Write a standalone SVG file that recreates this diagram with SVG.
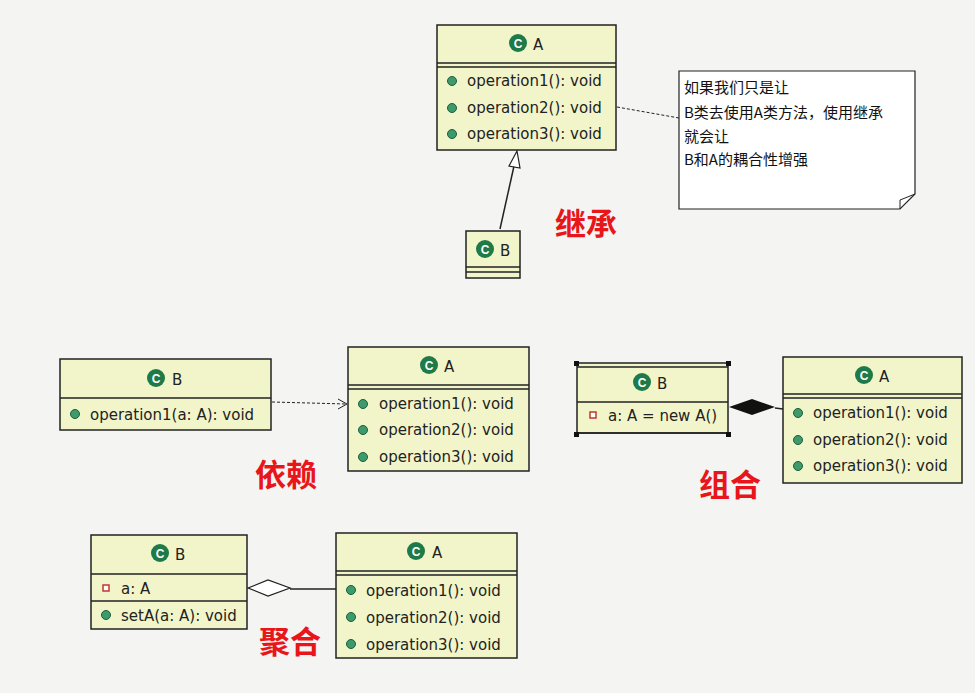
<svg xmlns="http://www.w3.org/2000/svg" width="975" height="693" viewBox="0 0 975 693">
<style>
.box{fill:#f2f5c9;stroke:#222;stroke-width:1.5}
.ln{stroke:#222;stroke-width:1.5;fill:none}
.t{font-family:"DejaVu Sans","Noto Sans CJK SC",sans-serif;font-size:15px;fill:#222}
.n{font-family:"Noto Sans CJK SC","Liberation Sans",sans-serif;font-size:15px;fill:#111}
.red{font-family:"Noto Sans CJK SC",sans-serif;font-size:31px;font-weight:bold;fill:#e8161b}
.dot{fill:#3e9a6a;stroke:#1c5e3c;stroke-width:1}
.ci{fill:#1e7a48}
.cc{font-family:"Liberation Sans",sans-serif;font-size:12px;font-weight:bold;fill:#fff}
</style>
<defs>
<g id="icon"><circle r="9" class="ci"/><text class="cc" text-anchor="middle" y="4.5">C</text></g>
</defs>
<rect width="975" height="693" fill="#f4f4f2"/>
<g id="connectors">
<line class="ln" x1="500" y1="229" x2="514" y2="166"/>
<polygon points="517,151 509,166 520,168" fill="#fff" stroke="#222" stroke-width="1.2"/>
<line x1="617" y1="107" x2="679" y2="118" stroke="#222" stroke-dasharray="3,2"/>
<line x1="272" y1="402" x2="346" y2="404" stroke="#222" stroke-dasharray="3,2"/>
<polyline points="338,399 347,404 338,409" fill="none" stroke="#222"/>
<polygon points="729,407 752,399 775,407 752,415" fill="#111"/>
<line class="ln" x1="775" y1="408" x2="783" y2="409"/>
<polygon points="248,588 268,580 290,588 268,596" fill="#fff" stroke="#222" stroke-width="1.2"/>
<line class="ln" x1="290" y1="589" x2="336" y2="589"/>
</g>
<g id="topA">
<rect class="box" x="437" y="25" width="179" height="125"/>
<line class="ln" x1="437" y1="63" x2="616" y2="63"/><line class="ln" x1="437" y1="67" x2="616" y2="67"/>
<use href="#icon" x="518" y="43"/><text class="t" x="533" y="50">A</text>
<circle class="dot" cx="452" cy="81" r="4.5"/><text class="t" x="467" y="86">operation1(): void</text>
<circle class="dot" cx="452" cy="108" r="4.5"/><text class="t" x="467" y="113">operation2(): void</text>
<circle class="dot" cx="452" cy="134" r="4.5"/><text class="t" x="467" y="139">operation3(): void</text>
</g>
<g id="topB">
<rect class="box" x="466" y="231" width="54" height="47"/>
<line class="ln" x1="466" y1="267" x2="520" y2="267"/><line class="ln" x1="466" y1="272" x2="520" y2="272"/>
<use href="#icon" x="485" y="249"/><text class="t" x="500" y="256">B</text>
</g>
<g id="note">
<path d="M679,71 H915 V194 L900,209 H679 Z" fill="#fff" stroke="#222" stroke-width="1.2"/>
<path d="M915,194 L900,200 L900,209" fill="none" stroke="#222"/>
<text class="n" x="684" y="93">如果我们只是让</text>
<text class="n" x="684" y="118">B类去使用A类方法，使用继承</text>
<text class="n" x="684" y="142">就会让</text>
<text class="n" x="684" y="165">B和A的耦合性增强</text>
</g>
<text class="red" x="555" y="235">继承</text>
<g id="depB">
<rect class="box" x="60" y="359" width="211" height="71"/>
<line class="ln" x1="60" y1="398" x2="271" y2="398"/>
<use href="#icon" x="156" y="378"/><text class="t" x="172" y="385">B</text>
<circle class="dot" cx="75" cy="414" r="4.5"/><text class="t" x="90" y="420">operation1(a: A): void</text>
</g>
<g id="depA">
<rect class="box" x="348" y="347" width="181" height="124"/>
<line class="ln" x1="348" y1="385" x2="529" y2="385"/><line class="ln" x1="348" y1="389" x2="529" y2="389"/>
<use href="#icon" x="429" y="365"/><text class="t" x="444" y="372">A</text>
<circle class="dot" cx="363" cy="404" r="4.5"/><text class="t" x="379" y="409">operation1(): void</text>
<circle class="dot" cx="363" cy="430" r="4.5"/><text class="t" x="379" y="435">operation2(): void</text>
<circle class="dot" cx="363" cy="457" r="4.5"/><text class="t" x="379" y="462">operation3(): void</text>
</g>
<text class="red" x="255" y="486">依赖</text>
<g id="compB">
<rect class="box" x="577" y="363" width="151" height="70"/>
<line class="ln" x1="577" y1="402" x2="728" y2="402"/>
<line class="ln" x1="577" y1="367" x2="728" y2="367"/><line class="ln" x1="577" y1="433" x2="728" y2="433"/>
<rect x="574" y="361" width="5" height="5" fill="#111"/><rect x="726" y="361" width="5" height="5" fill="#111"/>
<rect x="574" y="432" width="5" height="5" fill="#111"/><rect x="726" y="432" width="5" height="5" fill="#111"/>
<use href="#icon" x="642" y="382"/><text class="t" x="657" y="389">B</text>
<rect x="590" y="412" width="6" height="6" fill="#fff" stroke="#c0392b" stroke-width="1.5"/><text class="t" x="608" y="421">a: A = new A()</text>
</g>
<g id="compA">
<rect class="box" x="783" y="357" width="179" height="126"/>
<line class="ln" x1="783" y1="394" x2="962" y2="394"/><line class="ln" x1="783" y1="398" x2="962" y2="398"/>
<use href="#icon" x="864" y="375"/><text class="t" x="879" y="382">A</text>
<circle class="dot" cx="798" cy="413" r="4.5"/><text class="t" x="813" y="418">operation1(): void</text>
<circle class="dot" cx="798" cy="440" r="4.5"/><text class="t" x="813" y="445">operation2(): void</text>
<circle class="dot" cx="798" cy="466" r="4.5"/><text class="t" x="813" y="471">operation3(): void</text>
</g>
<text class="red" x="699" y="496">组合</text>
<g id="aggB">
<rect class="box" x="91" y="535" width="156" height="94"/>
<line class="ln" x1="91" y1="574" x2="247" y2="574"/><line class="ln" x1="91" y1="601" x2="247" y2="601"/>
<use href="#icon" x="160" y="553"/><text class="t" x="175" y="560">B</text>
<rect x="103" y="585" width="6" height="6" fill="#fff" stroke="#c0392b" stroke-width="1.5"/><text class="t" x="121" y="594">a: A</text>
<circle class="dot" cx="106" cy="615" r="4.5"/><text class="t" x="121" y="621">setA(a: A): void</text>
</g>
<g id="aggA">
<rect class="box" x="336" y="533" width="181" height="125"/>
<line class="ln" x1="336" y1="571" x2="517" y2="571"/><line class="ln" x1="336" y1="575" x2="517" y2="575"/>
<use href="#icon" x="416" y="551"/><text class="t" x="432" y="558">A</text>
<circle class="dot" cx="351" cy="590" r="4.5"/><text class="t" x="366" y="596">operation1(): void</text>
<circle class="dot" cx="351" cy="617" r="4.5"/><text class="t" x="366" y="623">operation2(): void</text>
<circle class="dot" cx="351" cy="644" r="4.5"/><text class="t" x="366" y="650">operation3(): void</text>
</g>
<text class="red" x="259" y="653">聚合</text>
</svg>
